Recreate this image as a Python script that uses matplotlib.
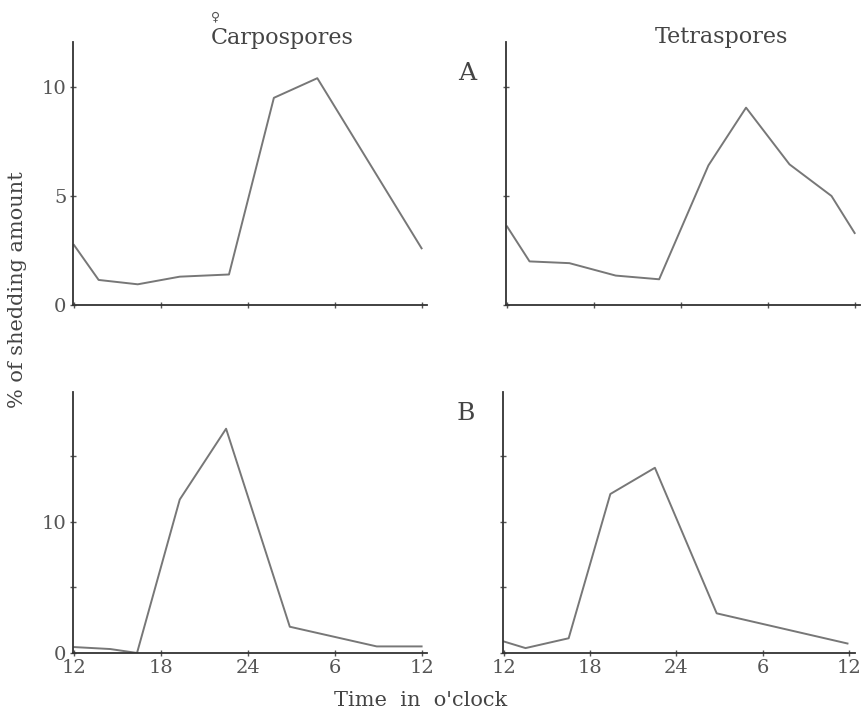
import matplotlib.pyplot as plt
import numpy as np

# hours after 12 o'clock (noon) and % of shedding amount
carpo_a_t = [0, 1.7, 4.4, 7.3, 10.7, 13.8, 16.8, 24]
carpo_a_v = [2.75, 1.15, 0.95, 1.3, 1.4, 9.5, 10.4, 2.6]
tetra_a_t = [0, 1.55, 4.3, 7.5, 10.5, 13.9, 16.5, 19.5, 22.4, 24]
tetra_a_v = [3.6, 2.0, 1.92, 1.35, 1.18, 6.4, 9.05, 6.45, 5.0, 3.3]
carpo_b_t = [0, 2.5, 4.35, 7.3, 10.5, 14.9, 20.9, 24]
carpo_b_v = [0.45, 0.3, 0.0, 11.7, 17.1, 2.0, 0.5, 0.5]
tetra_b_t = [0, 1.5, 4.5, 7.4, 10.5, 14.8, 23.9]
tetra_b_v = [0.85, 0.35, 1.1, 12.1, 14.1, 3.0, 0.7]

xticks = [0, 6, 12, 18, 24]
xlabels = ["12", "18", "24", "6", "12"]

plt.rcParams['font.family'] = ['DejaVu Serif', 'DejaVu Sans']
fig = plt.figure(figsize=(8.62, 7.13), dpi=100)

def panel(rect, t, v, ymax, yt, ylab, xlab):
    ax = fig.add_axes(rect)
    ax.plot(t, v, color='#777777', lw=1.4)
    ax.set_xlim(-0.1, 24.4)
    ax.set_ylim(0, ymax)
    for s in ['top', 'right']:
        ax.spines[s].set_visible(False)
    for s in ['left', 'bottom']:
        ax.spines[s].set_color('#333333')
        ax.spines[s].set_linewidth(1.3)
    ax.set_xticks(xticks)
    ax.set_yticks(yt)
    ax.set_yticklabels(ylab, fontsize=14, color='#555555')
    if xlab:
        ax.set_xticklabels(xlabels, fontsize=14, color='#555555')
    else:
        ax.set_xticklabels([])
    ax.tick_params(direction='inout', length=5, width=1, color='#555555', pad=2)
    return ax

panel([0.0842, 0.5722, 0.4116, 0.3689], carpo_a_t, carpo_a_v, 12.06,
      [0, 5, 10], ["0", "5", "10"], False)
panel([0.5866, 0.5722, 0.4116, 0.3689], tetra_a_t, tetra_a_v, 12.06,
      [0, 5, 10], ["", "", ""], False)
panel([0.0842, 0.0842, 0.4116, 0.366], carpo_b_t, carpo_b_v, 19.9,
      [0, 5, 10, 15], ["0", "", "10", ""], True)
panel([0.5830, 0.0846, 0.4085, 0.366], tetra_b_t, tetra_b_v, 19.9,
      [0, 5, 10, 15], ["", "", "", ""], True)

fig.text(282/862, 1-38/713, "Carpospores", fontsize=16, color='#444444',
         ha='center', va='center')
fig.text(216/862, 1-17/713, "\u2640", fontsize=9, color='#555555',
         ha='center', va='center', family=['DejaVu Sans'])
fig.text(721/862, 1-37/713, "Tetraspores", fontsize=16, color='#444444',
         ha='center', va='center')
fig.text(467/862, 1-74/713, "A", fontsize=18, color='#444444',
         ha='center', va='center')
fig.text(466/862, 1-413/713, "B", fontsize=18, color='#444444',
         ha='center', va='center')
fig.text(18/862, 1-290/713, "% of shedding amount", fontsize=15,
         color='#444444', rotation=90, ha='center', va='center')
fig.text(421/862, 1-700/713, "Time  in  o'clock", fontsize=15,
         color='#444444', ha='center', va='center')

plt.savefig('out.png', dpi=100)
